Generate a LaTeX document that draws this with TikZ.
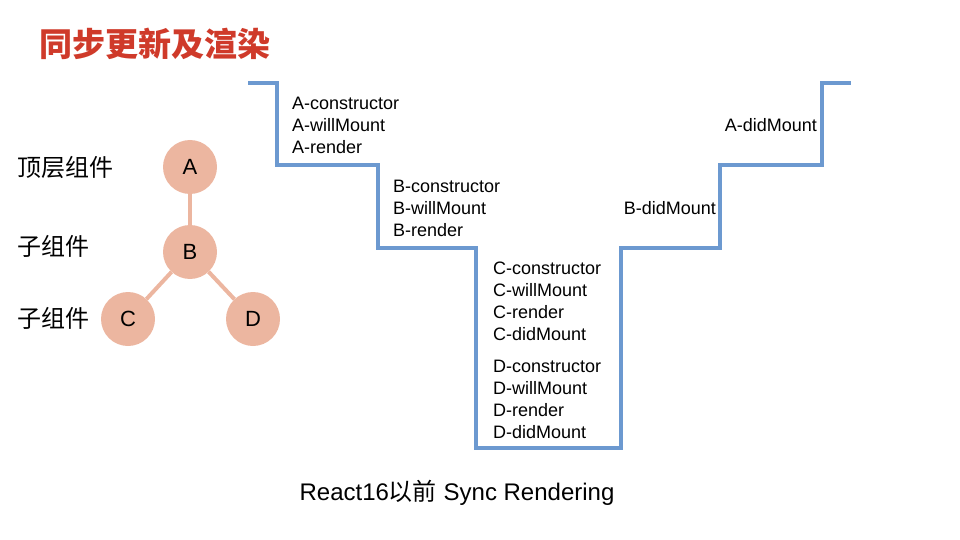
\documentclass[tikz,border=0pt]{standalone}
\usepackage{fontspec}
\setmainfont{Liberation Sans}
\newfontfamily\cjk{Noto Sans CJK SC}
\usepackage{tikz}
\usetikzlibrary{positioning}
\definecolor{stairblue}{RGB}{108,153,208}
\definecolor{nodepink}{RGB}{236,182,160}
\definecolor{titlered}{RGB}{207,58,42}

\begin{document}
\begin{tikzpicture}[x=1pt, y=-1pt, comp/.style={circle, fill=nodepink, minimum size=54pt, inner sep=0pt, font=\fontsize{22}{26}\selectfont}, hook/.style={align=left, inner sep=0pt, font=\fontsize{18}{22}\selectfont}, level/.style={anchor=west, inner sep=0pt, font=\cjk\fontsize{24}{28}\selectfont}]
				\useasboundingbox (0,0) rectangle (960,540);
				% Title

				\node [anchor=west, inner sep=0pt, text=titlered, font=\cjk\bfseries\fontsize{33}{36}\selectfont] (title) at (39,44) {同步更新及渲染};

				% Tree

				\node [comp] (a) at (190,167) {A};
				\node [comp] (b) at (190,252) {B};
				\node [comp] (c) at (128,319) {C};
				\node [comp] (d) at (253,319) {D};
				\draw[nodepink, line width=4pt] (a) -- (b);
				\draw[nodepink, line width=4pt] (b) -- (c);\draw[nodepink, line width=4pt] (b) -- (d);
				\node [level] (top) at (17,167) {顶层组件};
				\node [level] (sub1) at (17,246) {子组件};
				\node [level] (sub2) at (17,318) {子组件};

				% Stairs

				\draw[stairblue, line width=4pt] (248,83) -| (277,165) -| (378,248) -| (476,448) -| (621,248) -| (720,165) -| (822,83) -- (851,83);
				\node [hook, anchor=west] (mounta) at (292,125) {A-constructor\\A-willMount\\A-render};
				\node [hook, anchor=west] (mountb) at (393,208) {B-constructor\\B-willMount\\B-render};
				\node [hook, anchor=west] (mountc) at (493,301) {C-constructor\\C-willMount\\C-render\\C-didMount};
				\node [hook, anchor=west] (mountd) at (493,399) {D-constructor\\D-willMount\\D-render\\D-didMount};
				\node [hook, anchor=east] (didb) at (716,208) {B-didMount};
				\node [hook, anchor=east] (dida) at (817,125) {A-didMount};

				% Caption

				\node [inner sep=0pt, font=\fontsize{24}{27}\selectfont] (caption) at (457,493) {React16{\cjk 以前} Sync Rendering};
			\end{tikzpicture}
\end{document}
